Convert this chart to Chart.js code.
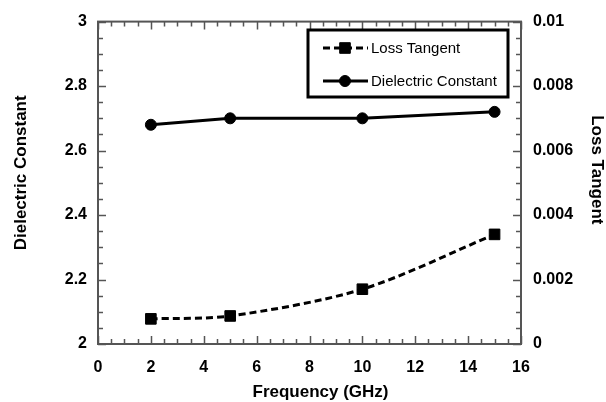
<!DOCTYPE html>
<html>
<head>
<meta charset="utf-8">
<script src="https://cdn.jsdelivr.net/npm/chart.js@4/dist/chart.umd.min.js"></script>
<style>
  html, body { margin: 0; padding: 0; background: #fff; }
  #wrap { width: 606px; height: 402px; }
</style>
</head>
<body>
<div id="wrap"><canvas id="chart" width="606" height="402"></canvas></div>
<script>
// data
const frequency = [2, 5, 10, 15];
const dielectricConstant = [2.68, 2.70, 2.70, 2.72];
const lossTangent = [0.00078, 0.00087, 0.0017, 0.0034];

const xTitle = 'Frequency (GHz)';
const leftTitle = 'Dielectric Constant';
const rightTitle = 'Loss Tangent';

const FONT = 'Arial, "Liberation Sans", sans-serif';
const AXIS_COLOR = '#555';

function toPoints(xs, ys) {
    return xs.map((x, i) => ({ x: x, y: ys[i] }));
}

function trimNum(v, digits) {
    return String(parseFloat(v.toFixed(digits)));
}

// frame + inward major/minor ticks on all four sides
const frameTicks = {
    id: 'frameTicks',
    afterDatasetsDraw(chart) {
        const { ctx, chartArea: a, scales } = chart;
        ctx.save();
        ctx.strokeStyle = AXIS_COLOR;
        ctx.lineWidth = 1.5;

        const sx = scales.x, yl = scales.y, yr = scales.y2;
        // x ticks (bottom and top)
        for (let i = 0; i <= 32; i++) {
            const px = Math.round(sx.getPixelForValue(i * 0.5)) + 0.5;
            const len = i % 4 === 0 ? 8 : 5;
            ctx.beginPath();
            ctx.moveTo(px, a.bottom); ctx.lineTo(px, a.bottom - len);
            ctx.moveTo(px, a.top); ctx.lineTo(px, a.top + len);
            ctx.stroke();
        }
        // left ticks
        for (let i = 0; i <= 20; i++) {
            const py = Math.round(yl.getPixelForValue(2 + i * 0.05)) + 0.5;
            const len = i % 4 === 0 ? 8 : 5;
            ctx.beginPath();
            ctx.moveTo(a.left, py); ctx.lineTo(a.left + len, py);
            ctx.stroke();
        }
        // right ticks
        for (let i = 0; i <= 20; i++) {
            const py = Math.round(yr.getPixelForValue(i * 0.0005)) + 0.5;
            const len = i % 4 === 0 ? 8 : 5;
            ctx.beginPath();
            ctx.moveTo(a.right, py); ctx.lineTo(a.right - len, py);
            ctx.stroke();
        }
        // frame
        ctx.lineWidth = 2;
        ctx.strokeRect(a.left, a.top, a.right - a.left, a.bottom - a.top);
        ctx.restore();
    }
};

// axis titles (the reference has them slightly off-centre)
const axisTitles = {
    id: 'axisTitles',
    afterDraw(chart) {
        const { ctx, chartArea: a } = chart;
        const midX = (a.left + a.right) / 2;
        const midY = (a.top + a.bottom) / 2;
        ctx.save();
        ctx.fillStyle = '#000';
        ctx.font = 'bold 17px ' + FONT;
        ctx.textAlign = 'center';
        ctx.textBaseline = 'middle';
        ctx.fillText(xTitle, midX + 11, 392);

        ctx.save();
        ctx.translate(21, midY - 10);
        ctx.rotate(-Math.PI / 2);
        ctx.fillText(leftTitle, 0, 0);
        ctx.restore();

        ctx.save();
        ctx.translate(597, midY - 13);
        ctx.rotate(Math.PI / 2);
        ctx.fillText(rightTitle, 0, 0);
        ctx.restore();
        ctx.restore();
    }
};

// legend drawn inside the plot, top right
const boxLegend = {
    id: 'boxLegend',
    afterDraw(chart) {
        const { ctx } = chart;
        const box = { x: 308, y: 30, w: 200, h: 67 };
        ctx.save();
        ctx.fillStyle = '#fff';
        ctx.fillRect(box.x, box.y, box.w, box.h);
        ctx.strokeStyle = '#000';
        ctx.lineWidth = 3;
        ctx.strokeRect(box.x, box.y, box.w, box.h);

        const rows = [48, 81];
        chart.data.datasets.forEach((ds, i) => {
            const y = rows[i];
            ctx.strokeStyle = '#000';
            ctx.fillStyle = '#000';
            ctx.lineWidth = ds.borderWidth;
            ctx.setLineDash(ds.borderDash || []);
            ctx.beginPath();
            ctx.moveTo(323, y); ctx.lineTo(368, y);
            ctx.stroke();
            ctx.setLineDash([]);
            ctx.lineWidth = 1;
            Chart.helpers.drawPoint(ctx, {
                pointStyle: ds.pointStyle, radius: ds.pointRadius, borderWidth: 1
            }, 345, y);
            ctx.fillStyle = '#000';
            ctx.font = '15px ' + FONT;
            ctx.textBaseline = 'middle';
            ctx.textAlign = 'left';
            ctx.fillText(ds.label, 371, y + 1);
        });
        ctx.restore();
    }
};

new Chart(document.getElementById('chart'), {
    type: 'line',
    data: {
        datasets: [
            {
                label: 'Loss Tangent',
                data: toPoints(frequency, lossTangent),
                yAxisID: 'y2',
                borderColor: '#000',
                backgroundColor: '#000',
                borderWidth: 3,
                borderDash: [7, 4],
                pointStyle: 'rect',
                pointRadius: 7.5,
                pointBorderWidth: 1,
                tension: 0.3
            },
            {
                label: 'Dielectric Constant',
                data: toPoints(frequency, dielectricConstant),
                yAxisID: 'y',
                borderColor: '#000',
                backgroundColor: '#000',
                borderWidth: 3,
                pointStyle: 'circle',
                pointRadius: 5.5,
                pointBorderWidth: 1,
                tension: 0
            }
        ]
    },
    options: {
        responsive: false,
        animation: false,
        layout: { padding: { top: 16, left: 0, right: 0, bottom: 0 } },
        plugins: {
            legend: { display: false },
            tooltip: { enabled: false }
        },
        scales: {
            x: {
                type: 'linear',
                min: 0, max: 16,
                grid: { display: false, drawTicks: false },
                border: { display: false },
                ticks: {
                    stepSize: 2,
                    color: '#000',
                    padding: 14,
                    font: { family: FONT, size: 16, weight: 'bold' }
                },
                afterFit(scale) { scale.height = 58; }
            },
            y: {
                position: 'left',
                min: 2, max: 3,
                grid: { display: false, drawTicks: false },
                border: { display: false },
                ticks: {
                    stepSize: 0.2,
                    color: '#000',
                    padding: 11,
                    font: { family: FONT, size: 16, weight: 'bold' },
                    callback: v => trimNum(v, 2)
                },
                afterFit(scale) { scale.width = 98; }
            },
            y2: {
                position: 'right',
                min: 0, max: 0.01,
                grid: { display: false, drawTicks: false },
                border: { display: false },
                ticks: {
                    stepSize: 0.002,
                    color: '#000',
                    padding: 12,
                    font: { family: FONT, size: 16, weight: 'bold' },
                    callback: v => trimNum(v, 4)
                },
                afterFit(scale) { scale.width = 85; }
            }
        }
    },
    plugins: [frameTicks, axisTitles, boxLegend]
});
</script>
</body>
</html>
